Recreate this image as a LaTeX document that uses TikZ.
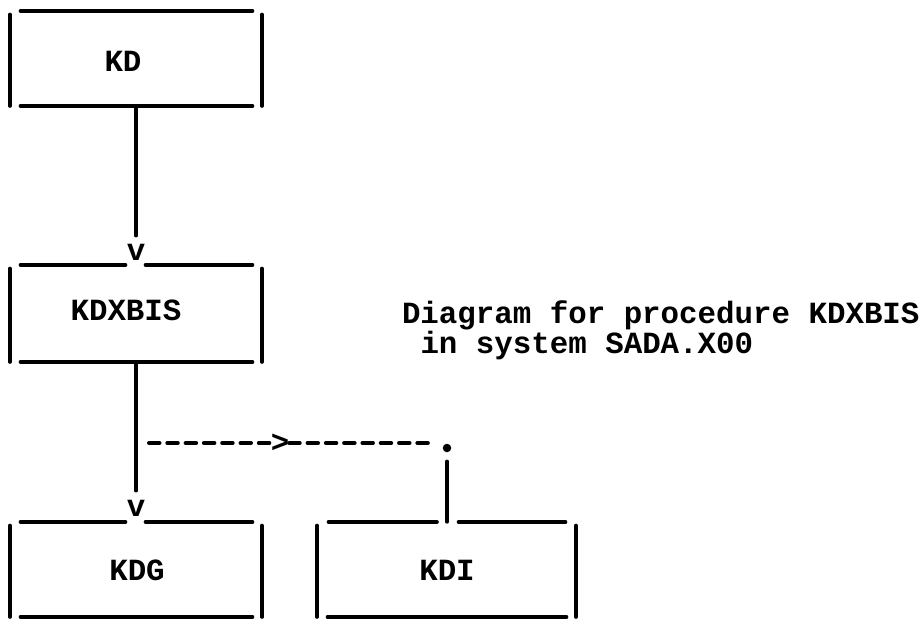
\documentclass[tikz,border=0pt]{standalone}
\usepackage{fontspec}
\newfontfamily\typew{Liberation Mono}
\usetikzlibrary{calc}
\newcommand\asciisides[1]{%
  \draw[seg] ($(#1.south west)+(10.5,0)$) -- ($(#1.south east)+(-9.5,0)$);
  \draw[seg] ($(#1.north west)+(0,3.5)$) -- ($(#1.south west)+(0,0)$);
  \draw[seg] ($(#1.north east)+(0,3.5)$) -- ($(#1.south east)+(0,0)$);}
\begin{document}
\begin{tikzpicture}[x=1pt,y=-1pt,
  every node/.style={inner sep=0pt, outer sep=0pt},
  txt/.style={font=\typew\bfseries\fontsize{30.8}{25}\selectfont, anchor=base},
  frame/.style={minimum width=#1, minimum height=95pt, draw=none},
  seg/.style={line width=3.6pt, line cap=round},
  conn/.style={line width=3.2pt, line cap=round},
  dashconn/.style={line width=4pt, line cap=round, dash pattern=on 10.5pt off 7.8pt},
  dotmark/.style={circle, fill=black, minimum size=8.5pt}]
\fill[white] (0,0) rectangle (923,621);
\useasboundingbox (0,0) rectangle (923,621);

% box outlines (invisible frames)
\node[frame=252pt] (kd) at (136,58.5) {};
\node[frame=252pt, minimum height=97pt] (kdxbis) at (136,313.5) {};
\node[frame=252pt] (kdg) at (136,569.5) {};
\node[frame=259pt] (kdi) at (446.5,569.5) {};

% box texts
\node[txt] (kdl) at (123,71) {KD};
\node[txt] (kdxbisl) at (126,320) {KDXBIS};
\node[txt] (kdgl) at (137,580) {KDG};
\node[txt] (kdil) at (447,580) {KDI};

% arrow heads as characters
\node[txt, anchor=center] (v1) at (136,252) {v};
\node[txt, anchor=center] (v2) at (136,508) {v};
\node[txt, anchor=center] (gt) at (280,443) {>};
\node[dotmark] (dt) at (447,448) {};

% frames
\asciisides{kd}
\draw[seg] ($(kd.north west)+(10.5,0)$) -- ($(kd.north east)+(-9.5,0)$);
\asciisides{kdxbis}
\draw[seg] ($(kdxbis.north west)+(10.5,0)$) -- ($(kdxbis.north -| v1)+(-10.5,0)$);
\draw[seg] ($(kdxbis.north -| v1)+(9.5,0)$) -- ($(kdxbis.north east)+(-9.5,0)$);
\asciisides{kdg}
\draw[seg] ($(kdg.north west)+(10.5,0)$) -- ($(kdg.north -| v2)+(-10.5,0)$);
\draw[seg] ($(kdg.north -| v2)+(9.5,0)$) -- ($(kdg.north east)+(-9.5,0)$);
\asciisides{kdi}
\draw[seg] ($(kdi.north west)+(11.5,0)$) -- ($(kdi.north -| dt)+(-10,0)$);
\draw[seg] ($(kdi.north -| dt)+(11.5,0)$) -- ($(kdi.north east)+(-10.5,0)$);

% connectors
\draw[conn, shorten >=8pt] (kd.south -| v1) -- (v1.north);
\draw[conn, shorten >=9pt] (kdxbis.south -| v2) -- (v2.north);
\coordinate (br) at (149,443);
\coordinate (dend) at (434,443);
\draw[dashconn] (br) -- (gt.west);
\draw[dashconn] (gt.east) -- (dend);
\draw[conn, shorten <=9pt] (dt.south) -- (kdi.north -| dt);

% title
\node[txt, anchor=base west] (title) at (402,323) {Diagram for procedure KDXBIS};
\node[txt, anchor=base west] (title2) at (420.5,353) {in system SADA.X00};
\end{tikzpicture}
\end{document}
